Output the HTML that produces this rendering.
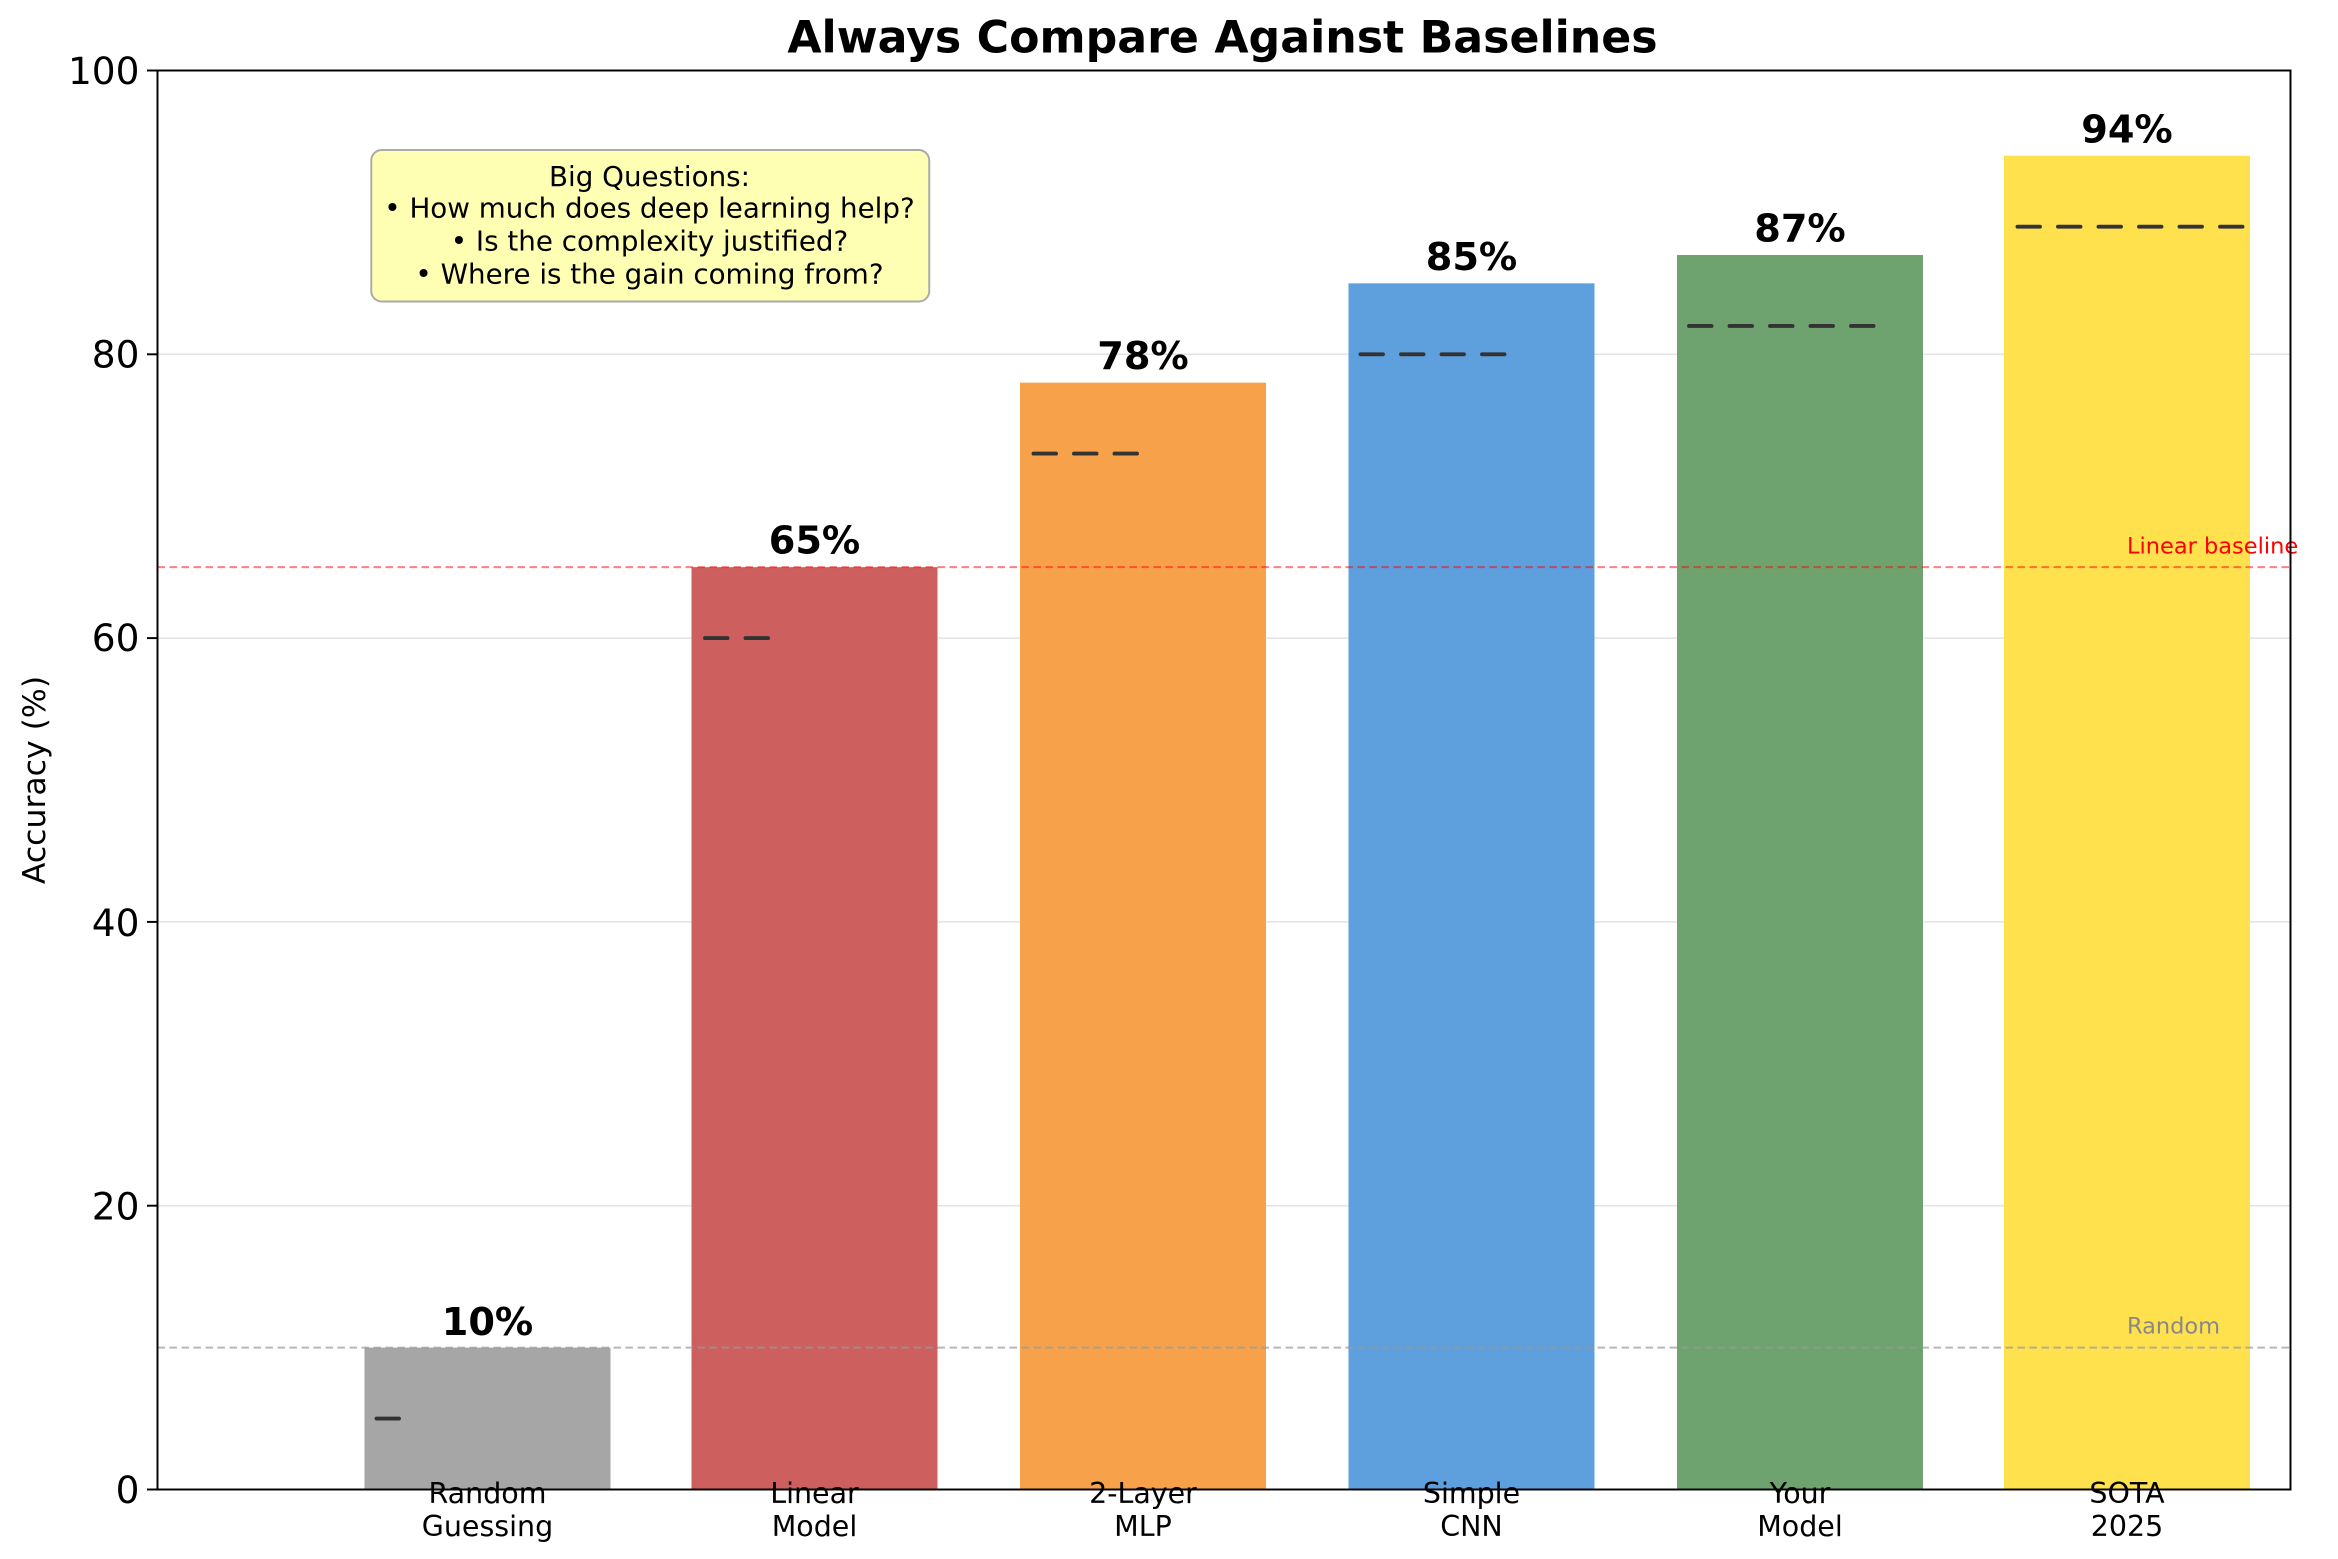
<!DOCTYPE html>
<html><head><meta charset="utf-8"><style>html,body{margin:0;padding:0;background:#fff}svg{display:block}</style></head>
<body>
<svg width="2338" height="1559" viewBox="0 0 1558.67 1039.33" xmlns="http://www.w3.org/2000/svg" font-family="'DejaVu Sans','Liberation Sans',sans-serif">
<rect width="1558.67" height="1039.33" fill="#fff"/>
<g stroke="#e3e3e3" stroke-width="1">
<line x1="105" x2="1527" y1="803.8" y2="803.8"/><line x1="105" x2="1527" y1="614.6" y2="614.6"/>
<line x1="105" x2="1527" y1="425.4" y2="425.4"/><line x1="105" x2="1527" y1="236.2" y2="236.2"/>
</g>
<rect x="243" y="898.4" width="164" height="94.6" fill="#a6a6a6"/>
<rect x="461" y="378.1" width="164" height="614.9" fill="#cd5f5f"/>
<rect x="680" y="255.1" width="164" height="737.9" fill="#f7a24b"/>
<rect x="899" y="188.9" width="164" height="804.1" fill="#5e9fdd"/>
<rect x="1118" y="170" width="164" height="823" fill="#6ea370"/>
<rect x="1336" y="103.8" width="164" height="889.2" fill="#ffe14d"/>
<g stroke="#333" stroke-width="2.6" stroke-linecap="round" stroke-dasharray="15 12">
<line x1="251" x2="266" y1="945.7" y2="945.7"/>
<line x1="470" x2="514" y1="425.4" y2="425.4"/>
<line x1="689" x2="760" y1="302.4" y2="302.4"/>
<line x1="907" x2="1006" y1="236.2" y2="236.2"/>
<line x1="1126" x2="1252" y1="217.3" y2="217.3"/>
<line x1="1345" x2="1499" y1="151.1" y2="151.1"/>
</g>
<line x1="105" x2="1527" y1="378.1" y2="378.1" stroke="#ff0000" stroke-opacity="0.5" stroke-width="1.3" stroke-dasharray="5 3"/>
<line x1="105" x2="1527" y1="898.4" y2="898.4" stroke="#999" stroke-opacity="0.7" stroke-width="1.3" stroke-dasharray="5 3"/>
<text x="1418" y="369" font-size="15" fill="#ff0000">Linear baseline</text>
<text x="1418" y="889" font-size="15" fill="#888">Random</text>
<rect x="247.5" y="100" width="372" height="101" rx="7" fill="#ffffb3" stroke="#aaa" stroke-width="1.3"/>
<g font-size="18.5" text-anchor="middle" fill="#000">
<text x="433" y="124">Big Questions:</text>
<text x="433" y="145">• How much does deep learning help?</text>
<text x="433" y="167">• Is the complexity justified?</text>
<text x="433" y="189">• Where is the gain coming from?</text>
</g>
<g font-size="25.5" font-weight="bold" text-anchor="middle">
<text x="325" y="890">10%</text><text x="543" y="369">65%</text><text x="762" y="246">78%</text>
<text x="981" y="180">85%</text><text x="1200" y="161">87%</text><text x="1418" y="95">94%</text>
</g>
<rect x="105" y="47" width="1422" height="946" fill="none" stroke="#000" stroke-width="1.3"/>
<g stroke="#000" stroke-width="1.3">
<line x1="98" x2="105" y1="993" y2="993"/><line x1="98" x2="105" y1="803.8" y2="803.8"/><line x1="98" x2="105" y1="614.6" y2="614.6"/>
<line x1="98" x2="105" y1="425.4" y2="425.4"/><line x1="98" x2="105" y1="236.2" y2="236.2"/><line x1="98" x2="105" y1="47" y2="47"/>
</g>
<g font-size="25" text-anchor="end">
<text x="93" y="1002">0</text><text x="93" y="813">20</text><text x="93" y="624">40</text>
<text x="93" y="434">60</text><text x="93" y="245">80</text><text x="93" y="56">100</text>
</g>
<g font-size="19" text-anchor="middle">
<text x="325" y="1002">Random</text><text x="325" y="1024">Guessing</text>
<text x="543" y="1002">Linear</text><text x="543" y="1024">Model</text>
<text x="762" y="1002">2-Layer</text><text x="762" y="1024">MLP</text>
<text x="981" y="1002">Simple</text><text x="981" y="1024">CNN</text>
<text x="1200" y="1002">Your</text><text x="1200" y="1024">Model</text>
<text x="1418" y="1002">SOTA</text><text x="1418" y="1024">2025</text>
</g>
<text transform="translate(30,520) rotate(-90)" font-size="21" text-anchor="middle">Accuracy (%)</text>
<text x="815" y="35" font-size="29.5" font-weight="bold" text-anchor="middle">Always Compare Against Baselines</text>
</svg>
</body></html>
